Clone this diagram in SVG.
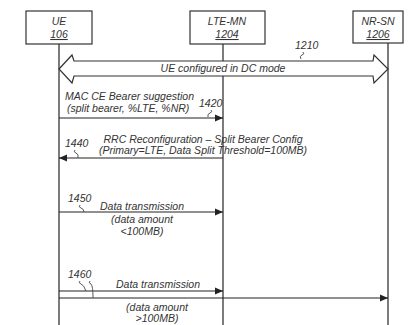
<svg xmlns="http://www.w3.org/2000/svg" width="410" height="325" viewBox="0 0 410 325">
<style>
text{font-family:"Liberation Sans",Arial,sans-serif;font-style:italic;font-size:10.5px;fill:#333}
.box{fill:#fff;stroke:#333;stroke-width:1.2}
.life{stroke:#444;stroke-width:1.4;fill:none}
.msg{stroke:#222;stroke-width:1.2;fill:none}
.sq{stroke:#444;stroke-width:0.9;fill:none}
.c{text-anchor:middle}
</style>
<defs>
<marker id="ah" viewBox="0 0 8 8" refX="8" refY="4" markerWidth="8" markerHeight="8" markerUnits="userSpaceOnUse" orient="auto">
<path d="M0,0.5 L8,4 L0,7.5 z" fill="#222"/>
</marker>
</defs>
<g id="lifelines">
<line class="life" x1="59" y1="44" x2="59" y2="325"/>
<line class="life" x1="223" y1="44" x2="223" y2="325"/>
<line class="life" x1="388" y1="43" x2="388" y2="325"/>
</g>
<g id="node-ue">
<rect class="box" x="26" y="11" width="66" height="33"/>
<text class="c" x="59" y="25">UE</text>
<text class="c" x="59" y="38" text-decoration="underline">106</text>
</g>
<g id="node-lte">
<rect class="box" x="190" y="11" width="75" height="33"/>
<text class="c" x="227" y="25">LTE-MN</text>
<text class="c" x="227" y="38" text-decoration="underline">1204</text>
</g>
<g id="node-nr">
<rect class="box" x="353" y="11" width="50" height="32"/>
<text class="c" x="378" y="25">NR-SN</text>
<text class="c" x="378" y="38" text-decoration="underline">1206</text>
</g>
<g id="connectors">
<polygon points="59,69 72,55 74,61 373,61 374,55 388,69 374,83 373,76 74,76 72,83" fill="#fff" stroke="#333" stroke-width="1.2"/>
<line class="msg" x1="59" y1="118" x2="223" y2="118" marker-end="url(#ah)"/>
<line class="msg" x1="223" y1="158" x2="59" y2="158" marker-end="url(#ah)"/>
<line class="msg" x1="59" y1="212" x2="223" y2="212" marker-end="url(#ah)"/>
<line class="msg" x1="59" y1="291" x2="223" y2="291" marker-end="url(#ah)"/>
<line class="msg" x1="59" y1="298" x2="388" y2="298" marker-end="url(#ah)"/>
<path class="sq" d="M303,52 q2,2 -1,3 q-3,1 -1,4"/>
<path class="sq" d="M211,110 q2,2 -1,3 q-3,1 -2,4"/>
<path class="sq" d="M75,150 q-2,2 1,3 q3,1 2,5"/>
<path class="sq" d="M80,205 q-2,2 1,3 q3,1 3,4"/>
<path class="sq" d="M80,281 q-2,2 1,3 q3,1 5,7"/>
<path class="sq" d="M90,281 q-2,2 1,3 q2,2 2,14"/>
</g>
<g id="labels">
<text class="c" x="223" y="72">UE configured in DC mode</text>
<text x="295" y="49">1210</text>
<text x="65" y="100">MAC CE Bearer suggestion</text>
<text x="67" y="112">(split bearer, %LTE, %NR)</text>
<text x="199" y="107">1420</text>
<text class="c" x="203" y="143">RRC Reconfiguration – Split Bearer Config</text>
<text class="c" x="203" y="154">(Primary=LTE, Data Split Threshold=100MB)</text>
<text x="65" y="147">1440</text>
<text x="68" y="202">1450</text>
<text x="100" y="210">Data transmission</text>
<text class="c" x="142" y="223">(data amount</text>
<text class="c" x="142" y="235">&lt;100MB)</text>
<text x="68" y="278">1460</text>
<text x="116" y="288">Data transmission</text>
<text class="c" x="157" y="311">(data amount</text>
<text class="c" x="157" y="322">&gt;100MB)</text>
</g>
</svg>
